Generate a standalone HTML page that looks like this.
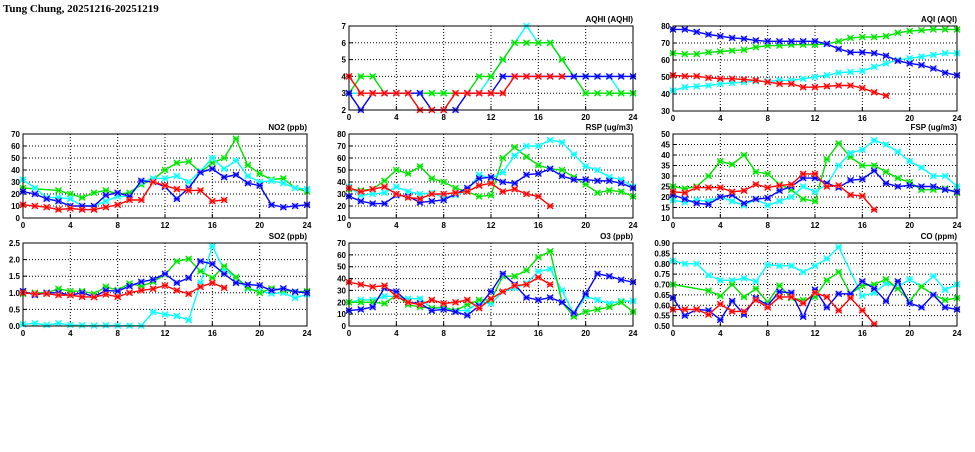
<!DOCTYPE html>
<html><head><meta charset="utf-8">
<style>
html,body{margin:0;padding:0;background:#fff;}
body{width:975px;height:447px;overflow:hidden;position:relative;}
svg text{font-family:"Liberation Sans",sans-serif;font-weight:bold;}
</style></head>
<body>
<svg id="chart" width="975" height="447" xmlns="http://www.w3.org/2000/svg">
<text x="3" y="12" font-size="11" style="font-family:'Liberation Serif',serif">Tung Chung, 20251216-20251219</text>
</svg>
<script>
const N = null;
const hours = [0,1,2,3,4,5,6,7,8,9,10,11,12,13,14,15,16,17,18,19,20,21,22,23,24];
const xTicks = [0,4,8,12,16,20,24];

const aqhiRed   = [4,3,3,3,3,3,2,2,2,3,3,3,3,3,4,4,4,4,4];
const aqhiBlue  = [3,2,3,3,3,3,3,2,2,2,3,3,3,4,4,4,4,4,4,4,4,4,4,4,4];
const aqhiCyan  = [3,3,3,3,3,3,3,3,3,3,3,3,4,5,6,7,6,6,5,4,4,4,4,3,3];
const aqhiGreen = [3,4,4,3,3,3,3,3,3,3,3,4,4,5,6,6,6,6,5,4,3,3,3,3,3];
const aqhiTicks = [2,3,4,5,6,7];

const aqiBlue  = [78,78,76.5,75,74,73,72.5,71.5,71,71,71,71,71,69.5,66.5,64.5,64.5,64,62.5,59.5,58,57,55,52.5,51];
const aqiGreen = [64,63.5,63.5,64.5,65,65.5,66,67.5,68.5,68.5,69,69,69,69.5,71,73,73.5,73.5,74,76,77,77.5,78,78,78];
const aqiCyan  = [42,44,44.5,45,46,46.5,47,47.5,47.5,48,48,49,50,51,52.5,53,53.5,56,58,60,61,62,63,64,64];
const aqiRed   = [51,50.5,50.5,49.5,49,49,48.5,48,47,46,46,44,44,44.5,45,45,43.5,41,39];
const aqiTicks = [30,40,50,60,70,80];

const no2Green = [25,N,N,23,20,17,21,23,20,21,28,32,40,46,47,38,46,50,66,44,37,32,33,25,22];
const no2Cyan  = [32,25,17,17,16,10,10,14,18,18,30,33,33,35,30,39,50,41,48,35,30,31,29,25,24];
const no2Blue  = [22,20,16,14,10,10,10,19,21,18,31,30,26,16,25,38,41,34,36,29,27,11,9,10,11];
const no2Red   = [11,10,9,7,8,7,7,9,11,15,15,30,27,24,23,23,14,15];
const no2Ticks = [0,10,20,30,40,50,60,70];

const rspGreen = [34,33,34,41,50,47,53,43,40,35,32,28,29,60,69,61,54,51,50,44,38,31,33,32,28];
const rspCyan  = [36,29,30,31,36,32,30,31,27,29,33,46,43,48,62,70,70,75,73,63,53,50,44,42,36];
const rspBlue  = [28,24,22,22,29,28,23,24,25,30,35,43,44,40,39,46,47,51,45,42,42,41,41,39,35];
const rspRed   = [35,32,34,36,30,27,26,30,30,31,32,37,39,32,34,30,28,20];
const rspTicks = [10,20,30,40,50,60,70,80];

const fspGreen = [25,24,25,30,37,35.5,40,32,31,26,23.5,19,18,38,45.5,39,35,35,32,29,27,23.5,23.5,24,22];
const fspCyan  = [18.5,17.5,18.5,18,20,18,16,19,16,18,20,25,22.5,26,35,41,42.5,47,45,41.5,37,34,30,30,25];
const fspBlue  = [21,19,17,16.5,20,21,17,19,19.5,23,25,29,29,26.5,24.5,28,28.5,32.5,26.5,25,25.5,25,25,23.5,22.5];
const fspRed   = [22.5,22,24.5,24.5,24.5,22.5,23,26,24.5,25.5,26,31,31,25,25.5,21,20.5,14];
const fspTicks = [10,15,20,25,30,35,40,45,50];

const so2Green = [0.97,1.0,1.0,1.12,1.05,1.05,0.97,1.18,1.08,1.28,1.2,1.33,1.55,1.95,2.02,1.65,1.45,1.8,1.47,1.15,1.0,1.13,1.08,1.03,1.05];
const so2Cyan  = [0.05,0.08,0.03,0.08,0.03,0.02,0.01,0.02,0.01,0.01,0.01,0.42,0.35,0.3,0.18,1.3,2.4,1.7,1.45,1.12,1.05,0.98,1.0,0.85,0.95];
const so2Blue  = [1.05,0.93,1.0,1.0,0.93,1.0,0.88,1.07,1.05,1.2,1.33,1.4,1.57,1.3,1.45,1.95,1.87,1.57,1.3,1.25,1.22,1.07,1.13,1.03,1.0];
const so2Red   = [1.0,0.97,0.97,0.93,0.93,0.88,0.87,0.95,0.88,1.0,1.07,1.12,1.22,1.07,0.97,1.18,1.3,1.15];
const so2Ticks = [0.0,0.5,1.0,1.5,2.0,2.5];

const o3Green = [20,20,20,19,26,18,16,15,16,13,18,22,22,42,42,47,58,63,20,8,12,14,16,20,12];
const o3Cyan  = [20,22,22,25,25,23,23,15,15,13,13,20,19,29,32,36,46,48,30,10,25,22,19,21,21];
const o3Blue  = [13,14,16,32,29,20,19,13,14,12,9,17,29,44,35,24,22,24,20,11,27,44,42,39,37];
const o3Red   = [37,35,33,34,25,20,18,22,19,20,22,15,23,29,34,35,41,35];
const o3Ticks = [0,10,20,30,40,50,60,70];

const coCyan  = [0.815,0.80,0.80,0.745,0.72,0.72,0.73,0.715,0.795,0.79,0.79,0.76,0.79,0.825,0.88,N,0.645,0.66,0.705,0.69,0.725,0.69,0.74,0.675,0.70];
const coGreen = [0.70,N,N,0.67,0.645,0.70,0.64,0.68,0.615,0.695,0.635,0.625,0.64,0.72,0.76,0.655,0.695,0.70,0.725,0.68,0.62,0.69,0.65,0.625,0.635];
const coBlue  = [0.635,0.55,0.58,0.575,0.53,0.62,0.555,0.635,0.60,0.665,0.66,0.545,0.675,0.59,0.655,0.655,0.715,0.68,0.62,0.715,0.61,0.59,0.65,0.59,0.58];
const coRed   = [0.58,0.58,0.58,0.555,0.605,0.57,0.57,0.625,0.59,0.64,0.64,0.61,0.66,0.64,0.575,0.635,0.575,0.51];
const coTicks = [0.50,0.55,0.60,0.65,0.70,0.75,0.80,0.85,0.90];

const COL = {red:'#ff0000', blue:'#0000ff', cyan:'#00ffff', green:'#00e000'};
const LIGHT = {red:'#ff9090', blue:'#9090ff', cyan:'#a0ffff', green:'#90ff90'};

const panels = [
 {id:'aqhi', title:'AQHI (AQHI)', l:349,r:633,t:26,b:110, ticks:aqhiTicks, dec:0, series:[['cyan',aqhiCyan],['green',aqhiGreen],['blue',aqhiBlue],['red',aqhiRed]]},
 {id:'aqi', title:'AQI (AQI)', l:673,r:957,t:26,b:111, ticks:aqiTicks, dec:0, series:[['cyan',aqiCyan],['green',aqiGreen],['blue',aqiBlue],['red',aqiRed]]},
 {id:'no2', title:'NO2 (ppb)', l:23,r:307,t:134,b:218, ticks:no2Ticks, dec:0, series:[['green',no2Green],['cyan',no2Cyan],['blue',no2Blue],['red',no2Red]]},
 {id:'rsp', title:'RSP (ug/m3)', l:349,r:633,t:134,b:218, ticks:rspTicks, dec:0, series:[['green',rspGreen],['cyan',rspCyan],['blue',rspBlue],['red',rspRed]]},
 {id:'fsp', title:'FSP (ug/m3)', l:673,r:957,t:134,b:218, ticks:fspTicks, dec:0, series:[['green',fspGreen],['cyan',fspCyan],['blue',fspBlue],['red',fspRed]]},
 {id:'so2', title:'SO2 (ppb)', l:23,r:307,t:243,b:326, ticks:so2Ticks, dec:1, series:[['cyan',so2Cyan],['green',so2Green],['blue',so2Blue],['red',so2Red]]},
 {id:'o3', title:'O3 (ppb)', l:349,r:633,t:243,b:326, ticks:o3Ticks, dec:0, series:[['cyan',o3Cyan],['green',o3Green],['blue',o3Blue],['red',o3Red]]},
 {id:'co', title:'CO (ppm)', l:673,r:957,t:243,b:326, ticks:coTicks, dec:2, series:[['cyan',coCyan],['green',coGreen],['blue',coBlue],['red',coRed]]}
];

const svg = document.getElementById('chart');
const NS = 'http://www.w3.org/2000/svg';
function mk(tag, attrs, parent){
  const e = document.createElementNS(NS, tag);
  for (const k in attrs) e.setAttribute(k, attrs[k]);
  parent.appendChild(e);
  return e;
}

panels.forEach(p => {
  const g = mk('g', {}, svg);
  
  
  const ymin = p.ticks[0], ymax = p.ticks[p.ticks.length-1];
  const xs = v => p.l + (v/24)*(p.r-p.l);
  const ys = v => p.b - (v-ymin)/(ymax-ymin)*(p.b-p.t);
  // grid
  xTicks.forEach(t => {
    if (t>0 && t<24) {
      const ln = mk('line', {x1:xs(t),x2:xs(t),y1:p.t,y2:p.b,stroke:'#000','stroke-width':1,'stroke-dasharray':'1,2'}, g);
      
      
    }
    const tk = mk('line', {x1:xs(t),x2:xs(t),y1:p.b,y2:p.b-4,stroke:'#000','stroke-width':1}, g);
    
    
    const tx = mk('text', {x:xs(t),y:p.b+10,'font-size':8,'text-anchor':'middle'}, g);
    tx.textContent = t;
    
    
  });
  p.ticks.forEach(t => {
    if (t>ymin && t<ymax) {
      const ln = mk('line', {x1:p.l,x2:p.r,y1:ys(t),y2:ys(t),stroke:'#000','stroke-width':1,'stroke-dasharray':'1,2'}, g);
      
      
    }
    const tk = mk('line', {x1:p.l,x2:p.l+4,y1:ys(t),y2:ys(t),stroke:'#000','stroke-width':1}, g);
    
    
    const tx = mk('text', {x:p.l-3,y:ys(t)+3,'font-size':8,'text-anchor':'end'}, g);
    tx.textContent = t.toFixed(p.dec);
    
    
  });
  // series
  p.series.forEach(([c, arr]) => {
    const pts = [];
    arr.forEach((v,i) => { if (v!==null) pts.push([xs(hours[i]), ys(v)]); });
    const sg = mk('g', {}, g);
    
    
    const pl = mk('polyline', {points:pts.map(q=>q.join(',')).join(' '),fill:'none',stroke:COL[c],'stroke-width':1.4}, sg);
    
    
    pts.forEach(([x,y]) => {
      const m = mk('g', {}, sg);
      
      
      mk('rect', {x:x-3,y:y-2.5,width:6,height:5,fill:LIGHT[c]}, m);
      mk('path', {d:`M${x-3},${y-3}L${x+3},${y+3}M${x-3},${y+3}L${x+3},${y-3}M${x-3},${y}L${x+3},${y}`,stroke:COL[c],'stroke-width':1.2}, m);
    });
  });
  // frame
  const fr = mk('rect', {x:p.l,y:p.t,width:p.r-p.l,height:p.b-p.t,fill:'none',stroke:'#000','stroke-width':1}, g);
  
  
  const tt = mk('text', {x:p.r,y:p.t-4,'font-size':8,'text-anchor':'end'}, g);
  tt.textContent = p.title;
  
  
});
</script>
</body></html>
